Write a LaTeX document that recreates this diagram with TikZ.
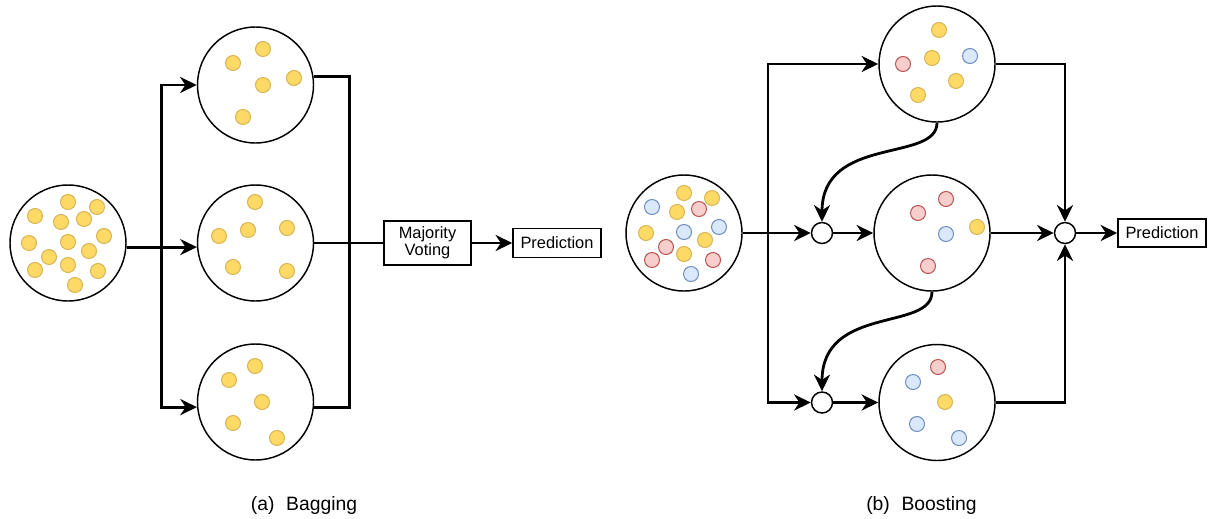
\documentclass[tikz,border=0pt]{standalone}
\usepackage{fontspec}
\setmainfont{Liberation Sans}
\usetikzlibrary{arrows.meta,calc}

\definecolor{yfill}{HTML}{FFD966}
\definecolor{ydraw}{HTML}{D6B656}
\definecolor{rfill}{HTML}{F8CECC}
\definecolor{rdraw}{HTML}{B85450}
\definecolor{bfill}{HTML}{DAE8FC}
\definecolor{bdraw}{HTML}{6C8EBF}

\tikzset{
  bag/.style={circle, draw=black, line width=1.1pt, fill=white, minimum size=87pt, inner sep=0pt},
  junc/.style={circle, draw=black, line width=1.1pt, fill=white, minimum size=15.75pt, inner sep=0pt},
  labelbox/.style={draw=black, line width=1.1pt, fill=white, inner sep=0pt, align=center,
    font=\fontsize{12.3pt}{13pt}\selectfont},
  line/.style={draw=black, line width=2.1pt},
  edge/.style={line, -{Stealth[length=12.5pt,width=12pt,inset=4pt]}},
  ydot/.style={fill=yfill, draw=ydraw, line width=0.75pt},
  rdot/.style={fill=rfill, draw=rdraw, line width=0.75pt},
  bdot/.style={fill=bfill, draw=bdraw, line width=0.75pt},
  caption/.style={anchor=base west, inner sep=0pt, font=\fontsize{14.5pt}{17pt}\selectfont},
}

\begin{document}
\begin{tikzpicture}[x=0.75pt, y=-0.75pt]
\useasboundingbox (0,0) rectangle (1216,518);

% ---------------- (a) Bagging ----------------
\node[bag] (A0) at (68,243) {};
\node[bag] (A1) at (255.5,85) {};
\node[bag] (A2) at (255.5,243) {};
\node[bag] (A3) at (255.5,402) {};
\node[labelbox, minimum width=65.25pt, minimum height=33pt] (mv) at (427.5,243) {Majority\\Voting};
\node[labelbox, minimum width=66pt, minimum height=22pt] (pa) at (557,243) {Prediction};

% samples
\foreach \p in {(68,202),(97,207),(35,216),(61,222),(84,219),(29,243),(68,242),(104,236),
                (49,257),(89,251),(68,265),(35,270),(98,271),(75,285)}
  \draw[ydot] \p circle[radius=7.5];
\foreach \p in {(263,49),(233,63),(294,78),(263,85),(243,117)}
  \draw[ydot] \p circle[radius=7.5];
\foreach \p in {(255,202),(219,236),(248,230),(287,228),(233,267),(287,271)}
  \draw[ydot] \p circle[radius=7.5];
\foreach \p in {(255,366),(229,380),(262,402),(233,423),(277,438)}
  \draw[ydot] \p circle[radius=7.5];

% bootstrap split
\coordinate (asplit) at (161.5,247);
\coordinate (ajoin) at (349.5,243);
\draw[edge] (A0.-4) -- (A2.184);
\draw[edge] (asplit) |- (A1.west);
\draw[edge] (asplit) |- (A3.185);
% aggregation
\draw[line] (A1.8) -| (ajoin) |- (A3.-5);
\draw[line] (A2.east) -- (mv.west);
\draw[edge] (mv.east) -- (pa.west);

\node[caption] (capa) at (250.7,510) {(a)\hspace{0.6em}Bagging};

% ---------------- (b) Boosting ----------------
\node[bag] (B0) at (684,233) {};
\node[bag] (B1) at (937,64) {};
\node[bag] (B2) at (932,233) {};
\node[bag] (B3) at (937,402.5) {};
\node[junc] (j1) at (822,233) {};
\node[junc] (j2) at (822,402.5) {};
\node[junc] (j3) at (1065,233) {};
\node[labelbox, minimum width=66pt, minimum height=21pt] (pb) at (1162,233) {Prediction};

% weighted samples
\draw[ydot] (684,193) circle[radius=7.5];
\draw[ydot] (712,198) circle[radius=7.5];
\draw[bdot] (652,207) circle[radius=7.5];
\draw[ydot] (677,212) circle[radius=7.5];
\draw[rdot] (699,209) circle[radius=7.5];
\draw[bdot] (719,227) circle[radius=7.5];
\draw[ydot] (646,233) circle[radius=7.5];
\draw[bdot] (684,232) circle[radius=7.5];
\draw[ydot] (705,240) circle[radius=7.5];
\draw[rdot] (666,247) circle[radius=7.5];
\draw[ydot] (684,254) circle[radius=7.5];
\draw[rdot] (652,260) circle[radius=7.5];
\draw[rdot] (713,260) circle[radius=7.5];
\draw[bdot] (691,274) circle[radius=7.5];

\draw[ydot] (939,30) circle[radius=7.5];
\draw[rdot] (903,64) circle[radius=7.5];
\draw[ydot] (932,58) circle[radius=7.5];
\draw[bdot] (970,56) circle[radius=7.5];
\draw[ydot] (956,81) circle[radius=7.5];
\draw[ydot] (918,95) circle[radius=7.5];

\draw[rdot] (946,199) circle[radius=7.5];
\draw[rdot] (918,213) circle[radius=7.5];
\draw[bdot] (946,234) circle[radius=7.5];
\draw[ydot] (977,227) circle[radius=7.5];
\draw[rdot] (928,266) circle[radius=7.5];

\draw[rdot] (938,367) circle[radius=7.5];
\draw[bdot] (913,382) circle[radius=7.5];
\draw[ydot] (945,402) circle[radius=7.5];
\draw[bdot] (917,424) circle[radius=7.5];
\draw[bdot] (959,438) circle[radius=7.5];

% sequential training
\coordinate (bsplit) at (768,233);
\draw[edge] (B0.east) -- (j1.west);
\draw[edge] (bsplit) |- (B1.west);
\draw[edge] (bsplit) |- (j2.west);
\draw[edge] (j1.east) -- (B2.west);
\draw[edge] (j2.east) -- (B3.west);
\draw[edge] (B1.south) .. controls +(0,40) and +(0,-87) .. (j1.north);
\draw[edge] (B2.south) .. controls +(0,40) and +(0,-87) .. (j2.north);
% weighted combination
\draw[edge] (B1.east) -| (j3.north);
\draw[edge] (B2.east) -- (j3.west);
\draw[edge] (B3.east) -| (j3.south);
\draw[edge] (j3.east) -- (pb.west);

\node[caption] (capb) at (866,510) {(b)\hspace{0.6em}Boosting};
\end{tikzpicture}
\end{document}
